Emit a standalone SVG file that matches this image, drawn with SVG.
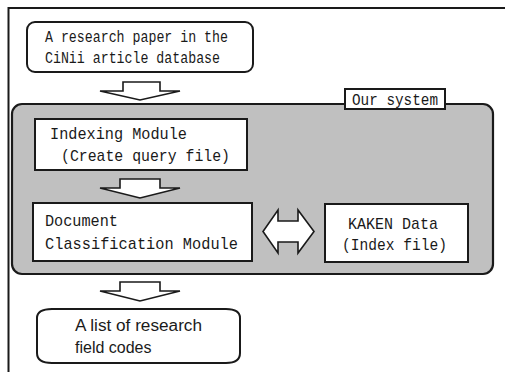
<svg xmlns="http://www.w3.org/2000/svg" width="505" height="372" viewBox="0 0 505 372">
<style>
.box{fill:#fff;stroke:#1a1a1a;stroke-width:2}
.arr{fill:#fff;stroke:#1a1a1a;stroke-width:1.6;stroke-linejoin:miter}
.mono{font-family:"Liberation Mono","DejaVu Sans Mono",monospace;font-size:17px;fill:#1a1a1a}
.sans{font-family:"Liberation Sans",Arial,sans-serif;font-size:16px;fill:#1a1a1a}
</style>
<rect width="505" height="372" fill="#fff"/>
<path d="M8.5,372 V8 H505" fill="none" stroke="#1a1a1a" stroke-width="2"/>
<g id="system">
<rect x="12" y="104" width="481" height="170" rx="10" fill="#c0c0c0" stroke="#1a1a1a" stroke-width="2.2"/>
<rect x="345" y="89" width="100" height="20" fill="#fff" stroke="#1a1a1a" stroke-width="2"/>
<text class="mono" x="352" y="105" textLength="86" lengthAdjust="spacingAndGlyphs">Our system</text>
</g>
<g id="input">
<rect class="box" x="27" y="22" width="226" height="50" rx="8"/>
<text class="mono" x="45" y="42" textLength="183" lengthAdjust="spacingAndGlyphs" style="font-size:16px">A research paper in the</text>
<text class="mono" x="45" y="63" textLength="175" lengthAdjust="spacingAndGlyphs" style="font-size:16px">CiNii article database</text>
</g>
<g id="indexing">
<rect class="box" x="35" y="119" width="212" height="51"/>
<text class="mono" x="50" y="139" textLength="137" lengthAdjust="spacingAndGlyphs">Indexing Module</text>
<text class="mono" x="61" y="161" textLength="169" lengthAdjust="spacingAndGlyphs">(Create query file)</text>
</g>
<g id="classification">
<rect class="box" x="33" y="203" width="219" height="58"/>
<text class="mono" x="45" y="226" textLength="73" lengthAdjust="spacingAndGlyphs">Document</text>
<text class="mono" x="45" y="249" textLength="193" lengthAdjust="spacingAndGlyphs">Classification Module</text>
</g>
<g id="kaken">
<rect class="box" x="325" y="204" width="143" height="58"/>
<text class="mono" x="348" y="229" textLength="90" lengthAdjust="spacingAndGlyphs">KAKEN Data</text>
<text class="mono" x="342" y="250" textLength="105" lengthAdjust="spacingAndGlyphs">(Index file)</text>
</g>
<g id="output">
<path class="box" d="M52,309 H226 Q240,309 240,318 V353 Q240,363 226,363 H52 Q37,363 37,353 V318 Q37,309 52,309 Z"/>
<text class="sans" x="75" y="331" textLength="127" lengthAdjust="spacingAndGlyphs">A list of research</text>
<text class="sans" x="75" y="353">field codes</text>
</g>
<g id="connectors">
<path class="arr" d="M123,82 H160 V91 H180 L140,100 L100,91 H123 Z"/>
<path class="arr" d="M120,179 H160 V188 H180 L140,198 L100,188 H120 Z"/>
<path class="arr" d="M120,282 H160 V291 H180 L140,301 L100,291 H120 Z"/>
<path class="arr" d="M263,231.5 L278,210 V221 H298 V210 L314,231.5 L298,253 V242 H278 V253 Z"/>
</g>
</svg>
